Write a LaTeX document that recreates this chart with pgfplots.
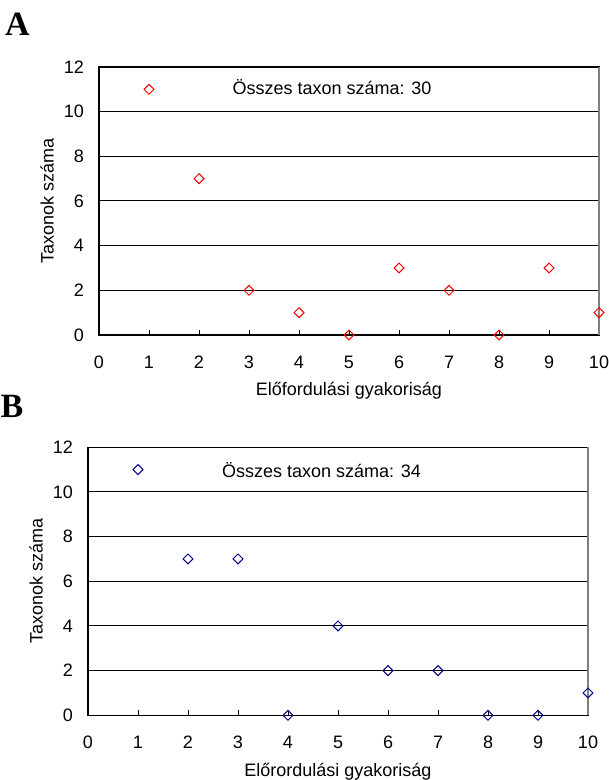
\documentclass[border=0pt]{standalone}
\usepackage{fontspec}
\setmainfont{Liberation Sans}
\newfontfamily\panelfont{Liberation Serif}
\usepackage{pgfplots}
\pgfplotsset{compat=1.18}

\definecolor{markred}{RGB}{255,0,0}
\definecolor{markblue}{RGB}{0,0,140}

\pgfplotsset{
  panel/.style={
    scale only axis,
    width=250pt, height=134pt,
    anchor=south west,
    xmin=0, xmax=10, ymin=0, ymax=12,
    xtick={0,...,10}, ytick={0,2,...,12},
    ymajorgrids,
    major grid style={black, line width=0.5pt},
    axis line style={line width=0.7pt},
    xtick pos=bottom, ytick pos=left,
    ytick style={draw=none},
    xtick style={black, line width=0.5pt},
    major tick length=2.5pt,
    tick align=inside,
    font=\fontsize{9}{11}\selectfont,
    /pgf/number format/assume math mode=true,
    xticklabel style={yshift=-7pt},
    yticklabel style={xshift=-4pt},
    xlabel style={at={(axis description cs:0.5,-0.209)}, anchor=center},
    ylabel style={at={(axis description cs:-0.104,0.5)}, anchor=center},
    ylabel={Taxonok száma},
    clip=false,
  },
  dots/.style={only marks, mark=square, mark size=1.75pt,
    mark options={rotate=45, line width=0.5pt, fill=white}},
}

\pgfplotstableread{
x y
1 11
2 7
3 2
4 1
5 0
6 3
7 2
8 0
9 3
10 1
}\dataA

\pgfplotstableread{
x y
1 11
2 7
3 7
4 0
5 4
6 2
7 2
8 0
9 0
10 1
}\dataB

\begin{document}
\begin{tikzpicture}
\path[use as bounding box] (0,0) rectangle (304.5pt,390pt);

\node[font=\panelfont\fontsize{17}{19}\selectfont\bfseries] at (8.75pt,377.75pt) {A};
\node[font=\panelfont\fontsize{17}{19}\selectfont\bfseries] at (6pt,187pt) {B};

\begin{axis}[panel, at={(49.5pt,222.5pt)}, xlabel={Előfordulási gyakoriság}]
  \addplot[dots, markred] table[x=x, y=y] {\dataA};
  \node[font=\fontsize{9}{11}\selectfont] at (axis cs:4.66,11.1) {Összes taxon száma: 30};
  \draw[gray, line width=0.7pt] (rel axis cs:1,0) -- (rel axis cs:1,1);
\end{axis}

\begin{axis}[panel, at={(44pt,32.35pt)}, xlabel={Előrordulási gyakoriság}]
  \addplot[dots, markblue] table[x=x, y=y] {\dataB};
  \node[font=\fontsize{9}{11}\selectfont] at (axis cs:4.67,11.0) {Összes taxon száma: 34};
  \draw[gray, line width=0.7pt] (rel axis cs:1,0) -- (rel axis cs:1,1);
\end{axis}
\end{tikzpicture}
\end{document}
